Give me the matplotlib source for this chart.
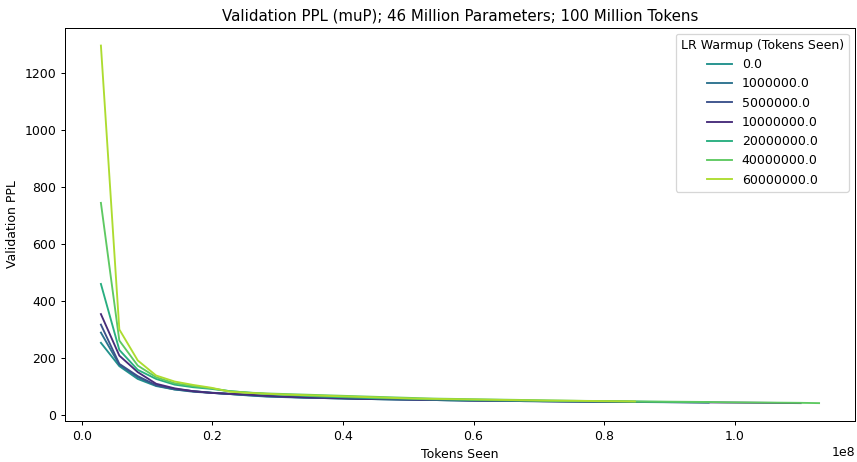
import matplotlib
matplotlib.use("Agg")
import matplotlib.pyplot as plt
import numpy as np

# tokens seen at each eval: first eval at ~2.94M, then one every ~2.82M tokens
first_tokens = 2.94e6
step_tokens = 2.82e6

warmups = ["0.0", "1000000.0", "5000000.0", "10000000.0", "20000000.0", "40000000.0", "60000000.0"]
colores = ["#21918c", "#2c728e", "#3b528b", "#472c7a", "#28ae80", "#5ec962", "#addc30"]

ppl_0 = [252, 170, 125, 100, 88, 82, 77, 72, 68, 64, 62, 60, 58, 57, 55, 54, 53, 52, 51, 50,
         49.5, 49, 48, 47.5, 47, 46.5, 46, 45.5, 45, 44.5]
ppl_1m = [288, 175, 131, 102, 88, 80, 76, 72, 67, 63, 61, 59, 58, 56, 55, 54, 53, 52, 51, 50,
          49, 48.5, 48, 47, 46.5, 46, 45.5, 45, 44.5, 44, 43.5, 43, 42.5, 42]
ppl_5m = [316, 178, 135, 103, 90, 82, 76, 72, 69, 65, 62, 60, 58, 57, 55, 54, 53, 52, 51, 50,
          49, 48.5, 48, 47, 46.5, 46, 45.5, 45, 44.5, 44]
ppl_10m = [353, 207, 149, 108, 92, 82, 76, 73, 70, 66, 63, 61, 59, 58, 56, 55, 54, 53, 52, 51,
           50, 49, 48.5, 48, 47, 46.5, 46, 45.5, 45, 44.5, 44, 43.5, 43, 42.5, 42, 41.5, 41, 40.5, 40]
ppl_20m = [459, 227, 157, 125, 105, 96, 90, 82, 77, 72, 69, 66, 63, 61, 59, 57, 56, 55, 53, 52,
           51, 50, 49, 48.5, 48, 47, 46.5, 46, 45.5, 45, 44.5, 44, 43.5, 43]
ppl_40m = [744, 260, 172, 131, 110, 100, 92, 82, 77, 74, 72, 70, 68, 66, 64, 62, 60, 58, 56, 55,
           54, 53, 52, 51, 50, 49, 48, 47.5, 47, 46, 45.5, 45, 44.5, 44, 43, 42.5, 42, 41.5, 41, 40]
ppl_60m = [1297, 299, 190, 137, 116, 104, 94, 80, 76, 73, 70, 68, 66, 64, 62, 60, 58, 56, 55, 54,
           53, 52, 51, 50, 49, 48.5, 48, 47, 46.5, 46]

curvas = [ppl_0, ppl_1m, ppl_5m, ppl_10m, ppl_20m, ppl_40m, ppl_60m]

if __name__ == "__main__":
    fig, ax = plt.subplots(figsize=(857 / 90, 462 / 90), dpi=90)
    fig.subplots_adjust(left=65 / 857, right=855 / 857, top=1 - 27.7 / 462, bottom=1 - 421 / 462)

    for etiqueta, color, ppl in zip(warmups, colores, curvas):
        tokens = first_tokens + step_tokens * np.arange(len(ppl))
        ax.plot(tokens, ppl, color=color, linewidth=1.5, label=etiqueta)

    ax.set_title("Validation PPL (muP); 46 Million Parameters; 100 Million Tokens")
    ax.set_xlabel("Tokens Seen")
    ax.set_ylabel("Validation PPL")
    ax.legend(title="LR Warmup (Tokens Seen)", loc="upper right")

    plt.savefig("out.png", dpi=90)
